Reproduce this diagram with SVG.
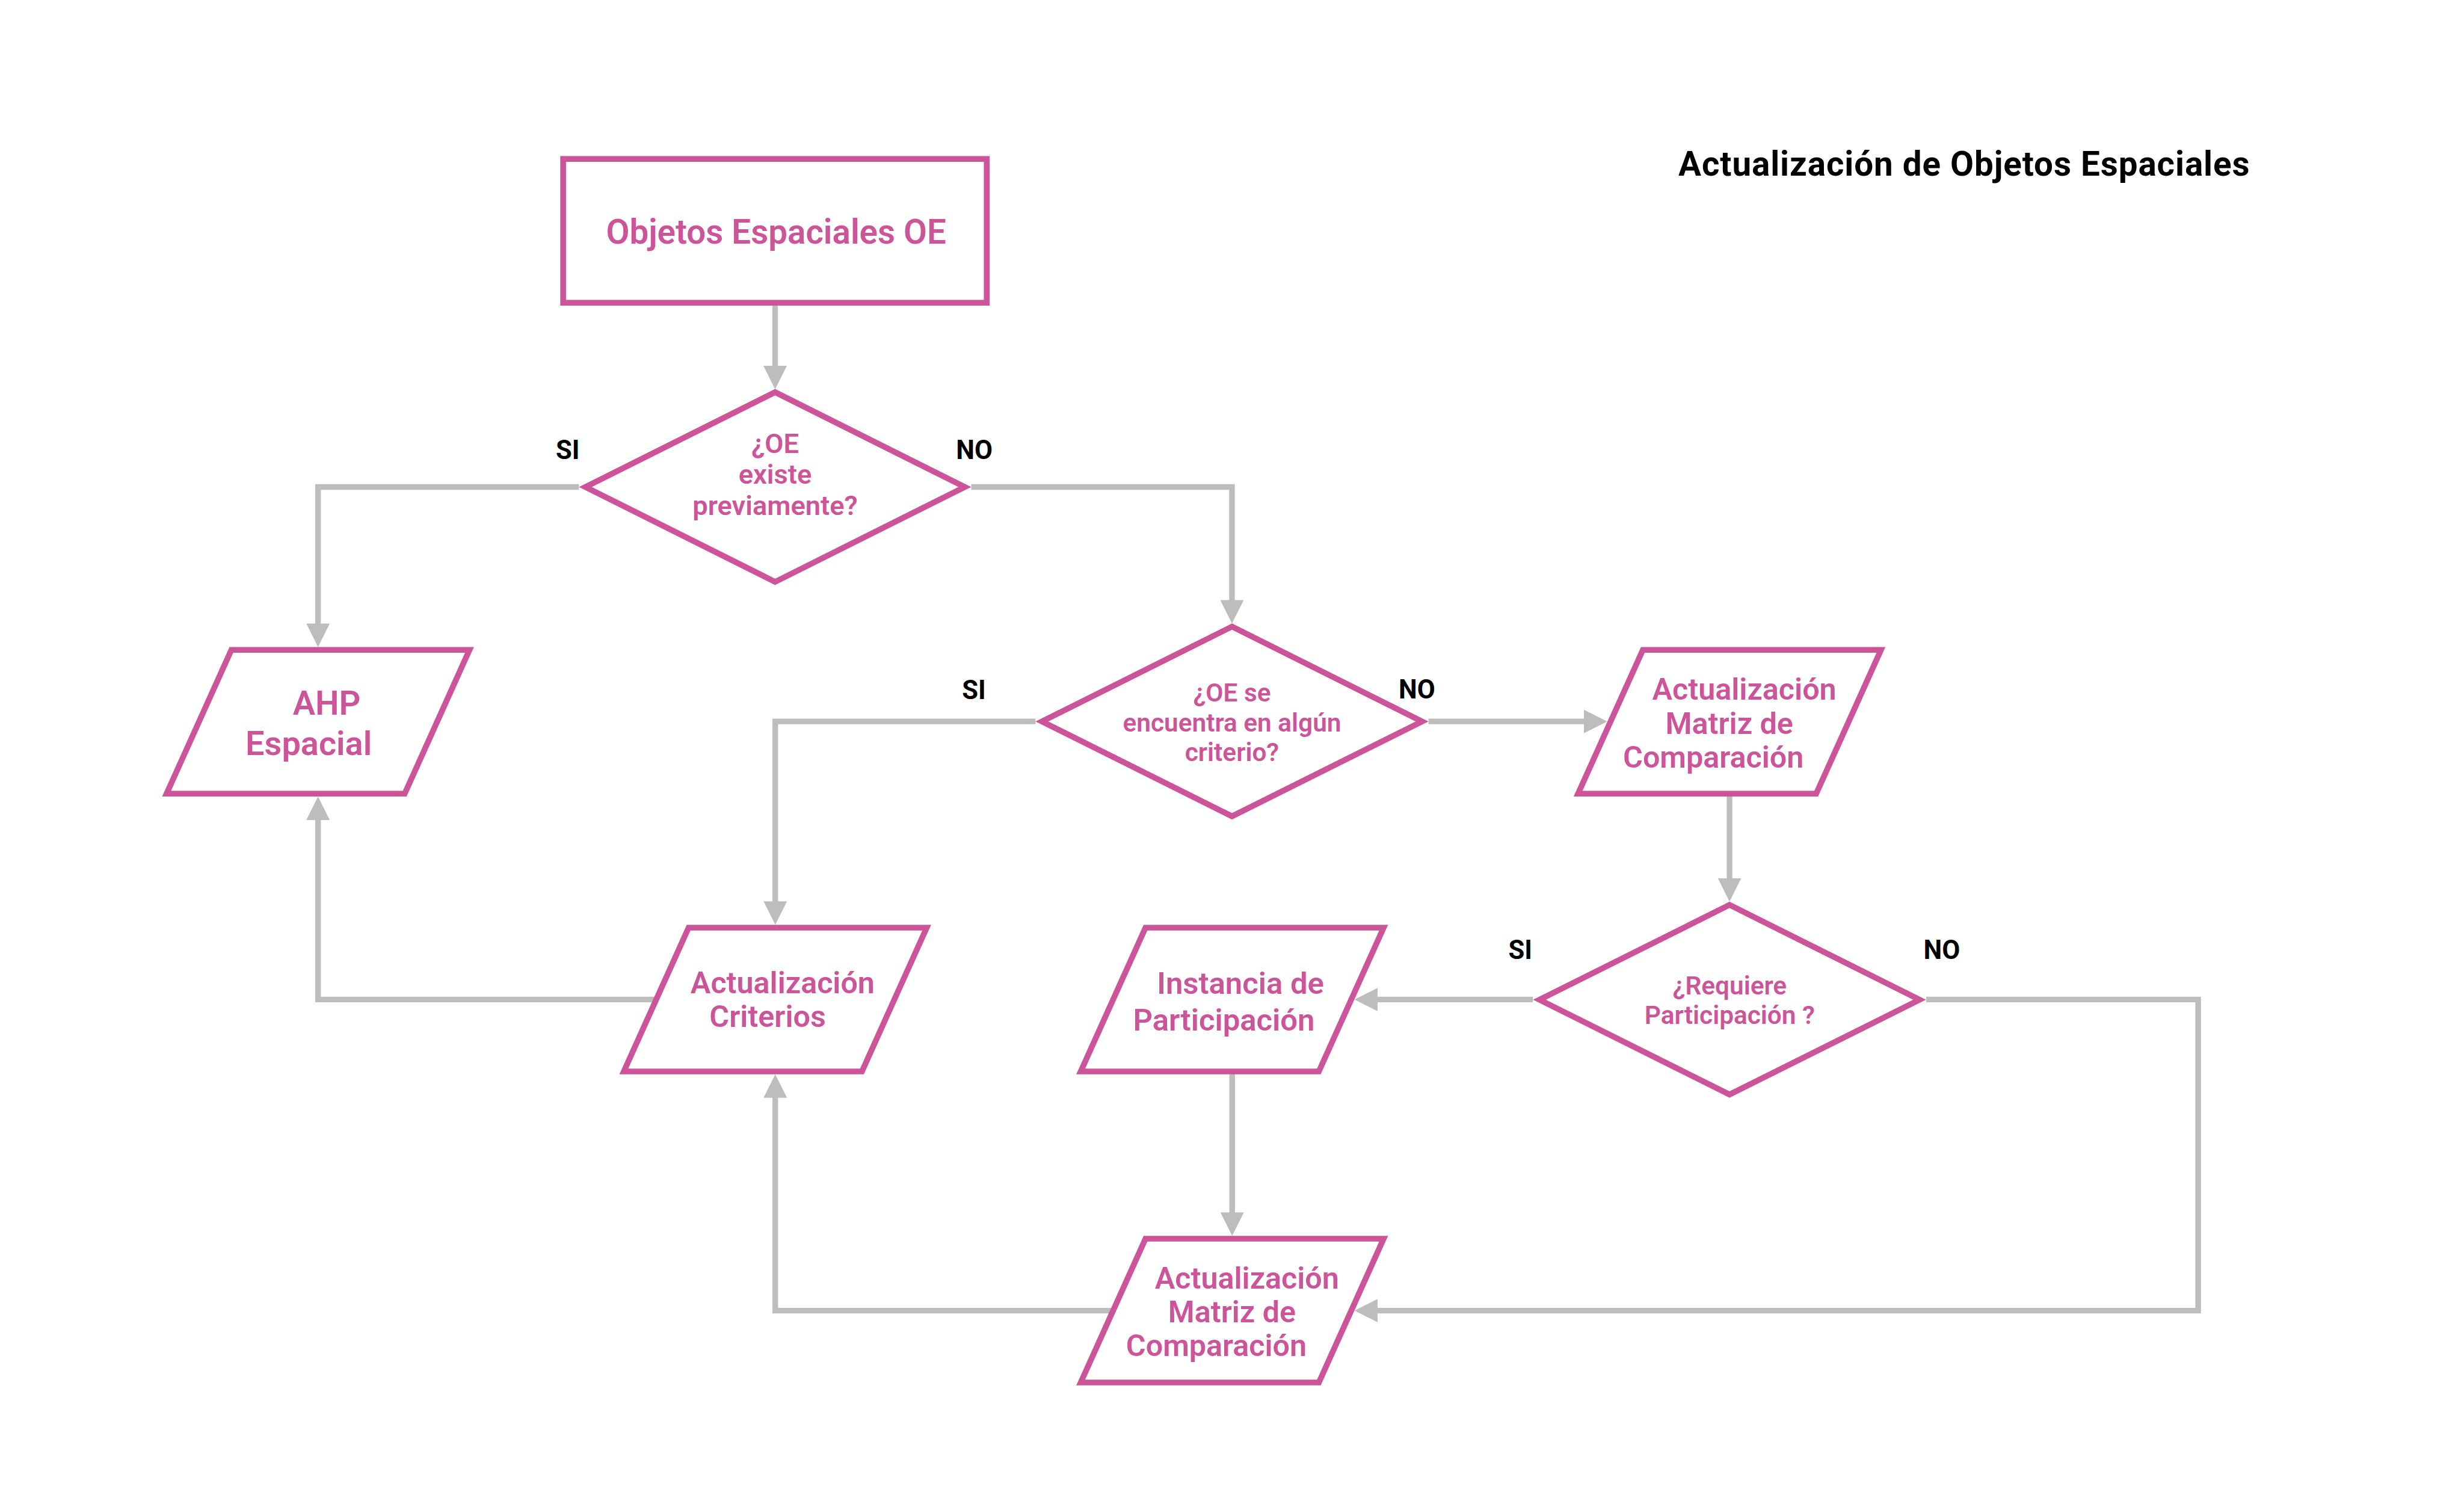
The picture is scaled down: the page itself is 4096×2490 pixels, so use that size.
<svg xmlns="http://www.w3.org/2000/svg" width="4096" height="2490" viewBox="0 0 4096 2490">
<defs>
<style>
.node{fill:#FFFFFF;stroke:#CC5599;stroke-width:17;stroke-linejoin:miter}
.conn{fill:none;stroke:#BDBDBD;stroke-width:16.5;stroke-linejoin:miter}
.nt{font-family:Roboto,"Liberation Sans",Arial,sans-serif;font-weight:600;fill:#CC5599;text-anchor:middle}
.lbl{font-family:Roboto,"Liberation Sans",Arial,sans-serif;font-weight:700;fill:#000000;text-anchor:middle;font-size:77px}
.title{font-family:Roboto,"Liberation Sans",Arial,sans-serif;font-weight:700;fill:#000000;text-anchor:middle;font-size:100px;letter-spacing:1.7px}
</style>
<marker id="ah" markerUnits="userSpaceOnUse" markerWidth="69" markerHeight="69" viewBox="0 0 69 69" refX="2" refY="34.5" orient="auto">
<path d="M0,0 L69,34.5 L0,69 Z" fill="#BDBDBD"/>
</marker>
</defs>
<rect width="4096" height="2490" fill="#FFFFFF"/>
<g transform="scale(0.56512)">
<g id="connectors">
<path class="conn" d="M2280,880 V1078" marker-end="url(#ah)"/>
<path class="conn" d="M1703,1432.5 H935.5 V1836" marker-end="url(#ah)"/>
<path class="conn" d="M2857,1432.5 H3624 V1767" marker-end="url(#ah)"/>
<path class="conn" d="M3046,2122 H2280.5 V2653" marker-end="url(#ah)"/>
<path class="conn" d="M4202,2122 H4661" marker-end="url(#ah)"/>
<path class="conn" d="M5087.5,2330 V2585" marker-end="url(#ah)"/>
<path class="conn" d="M4509,2940 H4051" marker-end="url(#ah)"/>
<path class="conn" d="M5666,2940 H6466 V3855 H4051" marker-end="url(#ah)"/>
<path class="conn" d="M3624.5,3150 V3568" marker-end="url(#ah)"/>
<path class="conn" d="M3290,3855 H2280.5 V3227" marker-end="url(#ah)"/>
<path class="conn" d="M1935,2940 H935.5 V2410" marker-end="url(#ah)"/>
</g>
<g id="title">
<text class="title" x="5778" y="517">Actualización de Objetos Espaciales</text>
</g>
<g id="labels">
<text class="lbl" x="1670" y="1350">SI</text>
<text class="lbl" x="2866" y="1350">NO</text>
<text class="lbl" x="2865" y="2056">SI</text>
<text class="lbl" x="4168" y="2055">NO</text>
<text class="lbl" x="4472" y="2821">SI</text>
<text class="lbl" x="5712" y="2821">NO</text>
</g>
<g id="n-objetos">
<rect class="node" x="1656.5" y="467.5" width="1246" height="423"/>
<text class="nt" font-size="100" x="2283" y="716">Objetos Espaciales OE</text>
</g>
<g id="d-existe">
<polygon class="node" points="2280,1153.5 2838,1432.5 2280,1711.5 1722,1432.5"/>
<text class="nt" font-size="80"><tspan x="2280" y="1332">¿OE</tspan><tspan x="2280" y="1423">existe</tspan><tspan x="2280" y="1514">previamente?</tspan></text>
</g>
<g id="n-ahp">
<polygon class="node" points="680.5,1911.5 1381,1911.5 1190.5,2334.5 490,2334.5"/>
<text class="nt" font-size="99"><tspan x="961" y="2103">AHP</tspan><tspan x="908" y="2220">Espacial</tspan></text>
</g>
<g id="d-criterio">
<polygon class="node" points="3624,1843 4183,2122 3624,2401 3065,2122"/>
<text class="nt" font-size="75"><tspan x="3624" y="2064">¿OE se</tspan><tspan x="3624" y="2152">encuentra en algún</tspan><tspan x="3624" y="2239">criterio?</tspan></text>
</g>
<g id="n-matriz1">
<polygon class="node" points="4832.5,1911.5 5533,1911.5 5342.5,2334.5 4642,2334.5"/>
<text class="nt" font-size="89"><tspan x="5131" y="2058">Actualización</tspan><tspan x="5087" y="2158">Matriz de</tspan><tspan x="5040" y="2258">Comparación</tspan></text>
</g>
<g id="n-criterios">
<polygon class="node" points="2025.5,2728.5 2726,2728.5 2535.5,3151.5 1835,3151.5"/>
<text class="nt" font-size="89"><tspan x="2302" y="2922">Actualización</tspan><tspan x="2258" y="3021">Criterios</tspan></text>
</g>
<g id="n-instancia">
<polygon class="node" points="3369.5,2728.5 4070,2728.5 3879.5,3151.5 3179,3151.5"/>
<text class="nt" font-size="90"><tspan x="3649" y="2924">Instancia de</tspan><tspan x="3600" y="3031">Participación</tspan></text>
</g>
<g id="d-participacion">
<polygon class="node" points="5087.5,2661.5 5646.5,2940.5 5087.5,3219.5 4528.5,2940.5"/>
<text class="nt" font-size="75"><tspan x="5088" y="2925">¿Requiere</tspan><tspan x="5088" y="3012">Participación ?</tspan></text>
</g>
<g id="n-matriz2">
<polygon class="node" points="3369.5,3643.5 4070,3643.5 3879.5,4066.5 3179,4066.5"/>
<text class="nt" font-size="89"><tspan x="3668" y="3790">Actualización</tspan><tspan x="3624" y="3890">Matriz de</tspan><tspan x="3578" y="3989">Comparación</tspan></text>
</g>
</g>
</svg>
